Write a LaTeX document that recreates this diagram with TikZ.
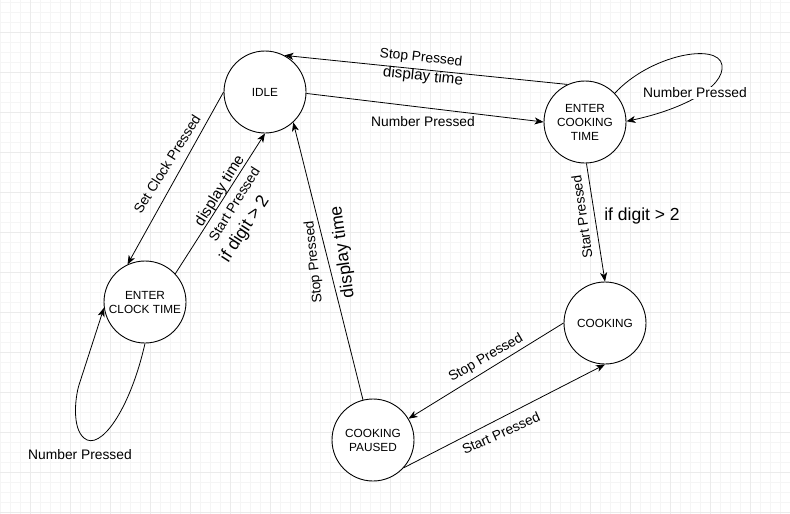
\documentclass[tikz,border=0pt]{standalone}
\usepackage{fontspec}
\setmainfont{Liberation Sans}
\usetikzlibrary{arrows.meta}
\begin{document}
\begin{tikzpicture}[x=1pt,y=-1pt,
 state/.style={circle,draw,fill=white,line width=0.9pt,minimum size=82pt,inner sep=0pt,align=center,font=\fontsize{11.8}{14}\selectfont},
 edge/.style={line width=0.8pt,-{Stealth[length=9pt,width=7pt,inset=2.5pt]}},
 lbl/.style={font=\fontsize{13.8}{16}\selectfont,inner sep=1pt},
 lblbig/.style={font=\fontsize{15.2}{18}\selectfont,inner sep=1pt},
 lblhuge/.style={font=\fontsize{17.5}{20}\selectfont,inner sep=1pt},
 minorgrid/.style={draw=black!4,line width=0.5pt},
 majorgrid/.style={draw=black!8,line width=0.7pt}]
\useasboundingbox (0,0) rectangle (790,514);
\fill[white] (0,0) rectangle (790,514);
% grid
\foreach \x in {0,10,...,790} \draw[minorgrid] (\x,0) -- (\x,514);
\foreach \y in {2,12,...,514} \draw[minorgrid] (0,\y) -- (790,\y);
\foreach \x in {30,70,...,790} \draw[majorgrid] (\x,0) -- (\x,514);
\foreach \y in {32,72,...,514} \draw[majorgrid] (0,\y) -- (790,\y);
% states
\node[state] (idle) at (265,92) {IDLE};
\node[state] (ect) at (585,122) {ENTER\\COOKING\\TIME};
\node[state] (eclk) at (145,302) {ENTER\\CLOCK TIME};
\node[state] (cook) at (605,323) {COOKING};
\node[state] (paused) at (373,440) {COOKING\\PAUSED};
% edges
\draw[edge] (ect.115) -- (idle.62);
\draw[edge] (idle.-2) -- (ect.180);
\draw[edge] (ect.44) .. controls (650,55) and (718,42) .. (722,65) .. controls (725,88) and (680,110) .. (ect.1);
\draw[edge] (idle.180) -- (eclk.115);
\draw[edge] (eclk.43) -- (idle.-90);
\draw[edge] (paused.104) -- (idle.-47);
\draw[edge] (ect.-88) -- (cook.90);
\draw[edge] (cook.180) -- (paused.31);
\draw[edge] (paused.-42) -- (cook.-90);
\draw[edge] (eclk.-90) .. controls (130,410) and (100,452) .. (84,438) .. controls (72,428) and (75,398) .. (79,385) -- (eclk.188);
% labels
\node[lbl,rotate=-6] (l1) at (421,58) {Stop Pressed};
\node[lblbig,rotate=-6] (l2) at (423,77) {display time};
\node[lbl] (l3) at (423,122) {Number Pressed};
\node[lbl,fill=white] (l4) at (695,93) {Number Pressed};
\node[lbl,rotate=58] (l5) at (167,164) {Set Clock Pressed};
\node[lblbig,rotate=58] (l6) at (220,191) {display time};
\node[lbl,rotate=58] (l7) at (234,204) {Start Pressed};
\node[lblhuge,rotate=57] (l8) at (245,229) {if digit > 2};
\node[lbl,rotate=96] (l9) at (314,262) {Stop Pressed};
\node[lblhuge,rotate=98] (l10) at (343,252) {display time};
\node[lbl,rotate=98] (l11) at (582,217) {Start Pressed};
\node[lblhuge] (l12) at (642,216) {if digit > 2};
\node[lbl,rotate=30] (l13) at (486,358) {Stop Pressed};
\node[lbl,rotate=24] (l14) at (501,433) {Start Pressed};
\node[lbl] (l15) at (80,455) {Number Pressed};
\end{tikzpicture}
\end{document}
